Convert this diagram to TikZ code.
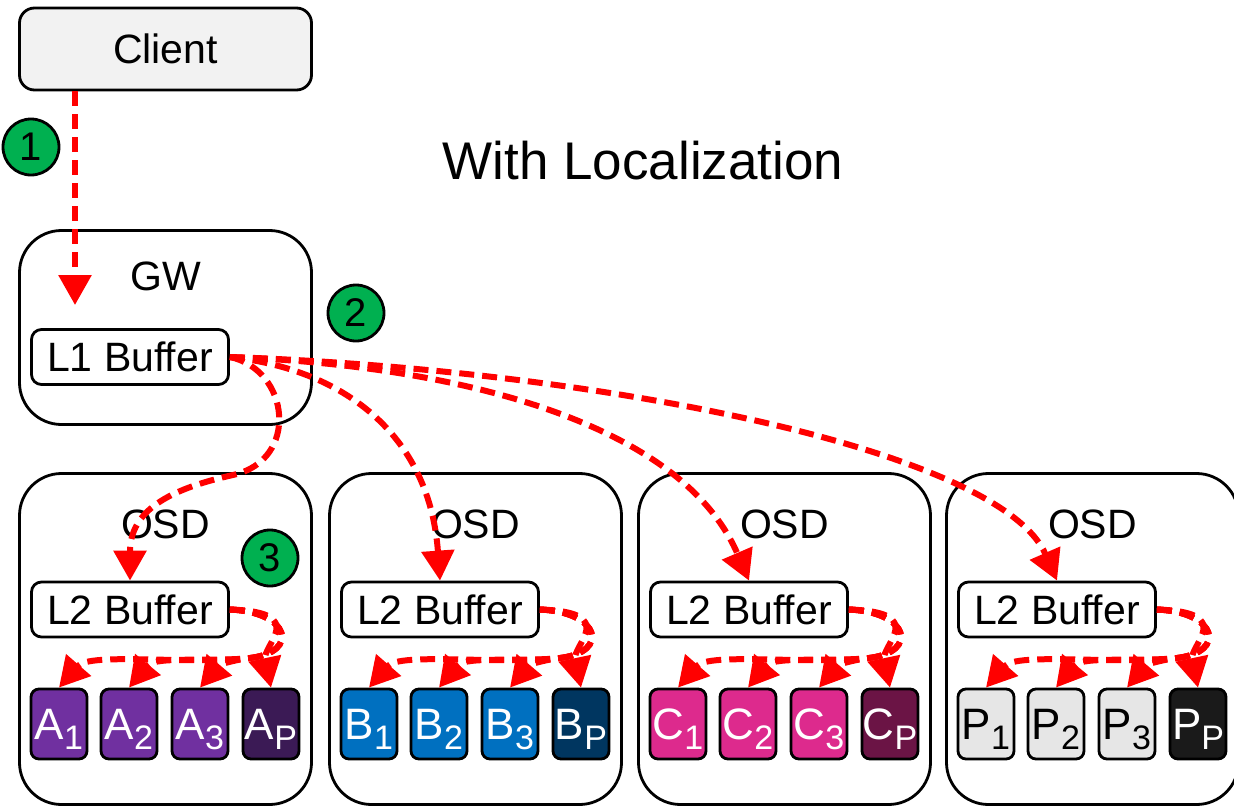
\documentclass[tikz,border=0pt]{standalone}
\usepackage{fontspec}
\setmainfont{Liberation Sans}
\usetikzlibrary{arrows.meta,calc}
\definecolor{clientgray}{HTML}{F2F2F2}
\definecolor{stepgreen}{HTML}{00B050}
\definecolor{flowred}{HTML}{FF0000}
\definecolor{chA}{HTML}{7030A0}
\definecolor{chAp}{HTML}{3B1A55}
\definecolor{chB}{HTML}{0070C0}
\definecolor{chBp}{HTML}{003660}
\definecolor{chC}{HTML}{DD2A8D}
\definecolor{chCp}{HTML}{6B1445}
\definecolor{chP}{HTML}{E6E6E6}
\definecolor{chPp}{HTML}{1A1A1A}
\newcommand{\chidx}[1]{\smash{\raisebox{-10pt}{\fontsize{34}{34}\selectfont#1}}}

\begin{document}
\begin{tikzpicture}[
  x=1pt,y=-1pt,>={Triangle[width=32pt,length=30pt]},
  ttl/.style={font=\fontsize{53}{60}\selectfont, inner sep=0pt},
  lbl/.style={font=\fontsize{41}{46}\selectfont, inner sep=0pt},
  hostbox/.style={draw, line width=2.8pt, rounded corners=42pt, minimum width=292pt, font=\fontsize{41}{46}\selectfont},
  bufbox/.style={draw, line width=2.8pt, fill=white, rounded corners=10pt, minimum width=197pt, minimum height=55pt, inner sep=0pt, font=\fontsize{41}{46}\selectfont},
  chunk/.style={draw, line width=2.8pt, rounded corners=8pt, minimum width=56pt, minimum height=70pt, inner sep=0pt, font=\fontsize{44}{46}\selectfont},
  stepnum/.style={circle, draw, line width=2.8pt, fill=stepgreen, minimum size=56pt, inner sep=0pt, font=\fontsize{40}{40}\selectfont},
  flowarr/.style={->, line width=6pt, color=flowred, dash pattern=on 15pt off 8pt},
]
\useasboundingbox (0,0) rectangle (1234,808);

% client and gateway
\node[hostbox, fill=clientgray, rounded corners=15pt, minimum height=82pt] (client) at (165.5,49) {Client};
\node[stepnum] (s1) at (31,147) {1};
\node[ttl] (title) at (643,161) {With Localization};
\node[hostbox, minimum height=194pt] (gw) at (165.5,327.5) {};
\node[lbl] (gwlbl) at (166,276) {GW};
\node[bufbox] (l1) at (130,357) {L1 Buffer};
\node[stepnum] (s2) at (356,313) {2};
\coordinate (gwin) at (75,305);
\draw[flowarr] (client.south -| gwin) -- (gwin);

% one OSD per group, with its chunks
\foreach \g/\ox/\ltr/\fc/\pc/\tc in {a/0/A/chA/chAp/white, b/310/B/chB/chBp/white, c/619/C/chC/chCp/white, p/927/P/chP/chPp/black}
{
\begin{scope}[xshift=\ox pt]
\node[hostbox, minimum height=331pt] (\g osd) at (165.5,639) {};
\node[lbl] (\g lbl) at (165.5,524) {OSD};
\node[bufbox] (\g l2) at (130,609.5) {L2 Buffer};
\node[chunk, fill=\fc, text=\tc] (\g 1) at (59,724) {\ltr\chidx{1}};
\node[chunk, fill=\fc, text=\tc] (\g 2) at (129,724) {\ltr\chidx{2}};
\node[chunk, fill=\fc, text=\tc] (\g 3) at (200,724) {\ltr\chidx{3}};
\node[chunk, fill=\pc, text=white] (\g p) at (271,724) {\ltr\chidx{P}};
\draw[flowarr] (\g l2.east) .. controls (290,612) and (300,652) .. (250,658) .. controls (190,665) and (90,652) .. (\g 1.north);
\draw[flowarr] (\g l2.east) .. controls (290,612) and (300,652) .. (250,658) .. controls (215,662) and (155,656) .. (\g 2.north);
\draw[flowarr] (\g l2.east) .. controls (290,612) and (300,652) .. (250,658) .. controls (235,660) and (220,664) .. (\g 3.north);
\draw[flowarr] (\g l2.east) .. controls (310,612) and (262,645) .. (\g p.north);
\end{scope}
}
\node[stepnum] (s3) at (270,558) {3};

% L1 to every L2
\draw[flowarr] (l1.east) .. controls (290,370) and (300,460) .. (233,475) .. controls (170,489) and (130,510) .. (al2.north);
\draw[flowarr] (l1.east) .. controls (350,370) and (430,440) .. (bl2.north);
\draw[flowarr] (l1.east) .. controls (450,365) and (680,420) .. (cl2.north);
\draw[flowarr] (l1.east) .. controls (600,370) and (1000,450) .. (pl2.north);
\end{tikzpicture}
\end{document}
